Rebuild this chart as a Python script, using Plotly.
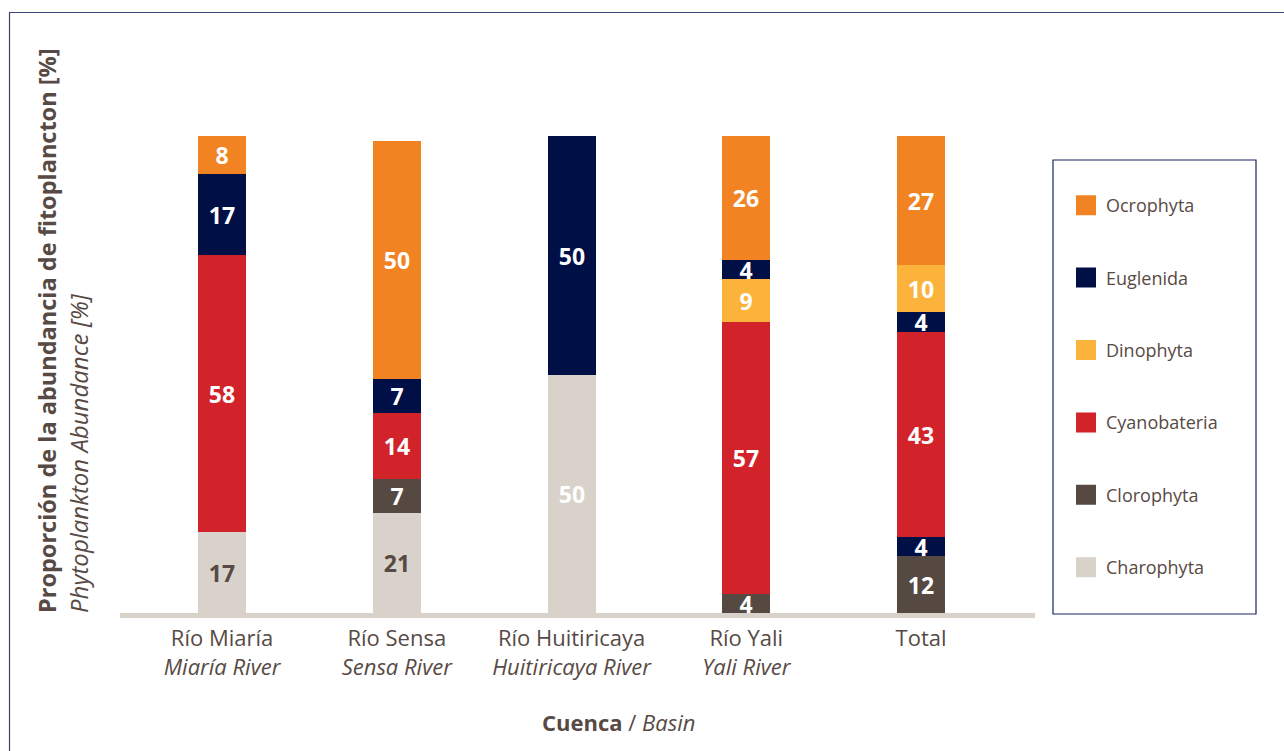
import plotly.graph_objects as go

# ---- data ----
categories_es = ["Río Miaría", "Río Sensa", "Río Huitiricaya", "Río Yali", "Total"]
categories_en = ["Miaría River", "Sensa River", "Huitiricaya River", "Yali River", ""]

charophyta = [17, 21, 50, 0, 0]
clorophyta = [0, 7, 0, 4, 12]
cyanobateria = [58, 14, 0, 57, 43]
dinophyta = [0, 0, 0, 9, 10]
euglenida = [17, 7, 50, 4, 0]
ocrophyta = [8, 50, 0, 26, 27]
# Total bar shows two additional Euglenida segments (below and above Cyanobateria)
euglenida_total_lower = [0, 0, 0, 0, 4]
euglenida_total_upper = [0, 0, 0, 0, 4]

legend_order = ["Ocrophyta", "Euglenida", "Dinophyta", "Cyanobateria", "Clorophyta", "Charophyta"]

colors = {
    "Ocrophyta": "#F28322",
    "Euglenida": "#000F45",
    "Dinophyta": "#FBB33B",
    "Cyanobateria": "#D2232A",
    "Clorophyta": "#554942",
    "Charophyta": "#D9D2CB",
}
TXT = "#574A44"
FONT = "Open Sans"

# stacking order bottom -> top
stack = [
    ("Charophyta", charophyta),
    ("Clorophyta", clorophyta),
    ("Euglenida", euglenida_total_lower),
    ("Cyanobateria", cyanobateria),
    ("Euglenida", euglenida_total_upper),
    ("Dinophyta", dinophyta),
    ("Euglenida", euglenida),
    ("Ocrophyta", ocrophyta),
]

fig = go.Figure()
for name, vals in stack:
    y = [v if v else None for v in vals]
    txt = [str(v) if v else "" for v in vals]
    if name == "Charophyta":
        tcol = [TXT if (v and v < 30) else "white" for v in vals]
    else:
        tcol = ["white"] * len(vals)
    fig.add_trace(go.Bar(
        x=categories_es, y=y, name=name, text=txt,
        marker=dict(color=colors[name], line=dict(width=0)),
        textposition="inside", insidetextanchor="middle",
        constraintext="none", textangle=0,
        insidetextfont=dict(family=FONT, size=23, color=tcol, weight="bold"),
        width=0.275, showlegend=False, hoverinfo="skip",
    ))

for i, name in enumerate(legend_order):
    fig.add_trace(go.Scatter(
        x=[None], y=[None], mode="markers", name=name,
        marker=dict(symbol="square", size=16, color=colors[name],
                    line=dict(color=colors[name], width=4)),
        legendgroup=name, showlegend=True,
    ))

L, R, T, B = 120, 1035, 136, 613
W, H = 1284, 751
pw, ph = R - L, B - T

def px(x):
    return (x - L) / pw

def py(y):
    return (B - y) / ph

ticktext = [f"{es}<br><i>{en}</i>" if en else es for es, en in zip(categories_es, categories_en)]

fig.update_layout(
    width=W, height=H,
    margin=dict(l=L, r=W - R, t=T, b=H - B, pad=0),
    paper_bgcolor="white", plot_bgcolor="white",
    barmode="stack", bargap=0,
    font=dict(family=FONT, color=TXT),
    showlegend=True,
    legend=dict(
        x=px(1066), y=py(187), xanchor="left", yanchor="top",
        traceorder="grouped", tracegroupgap=46,
        font=dict(family=FONT, size=18, color=TXT),
        bgcolor="rgba(0,0,0,0)", borderwidth=0,
    ),
    xaxis=dict(
        range=[-0.584, 4.652], tickmode="array", tickvals=categories_es, ticktext=ticktext,
        tickfont=dict(family=FONT, size=22, color=TXT),
        showline=True, linecolor="#D9D2CB", linewidth=5, showgrid=False,
        ticks="", ticklabelstandoff=2, fixedrange=True,
    ),
    yaxis=dict(range=[0, 100], showticklabels=False, showgrid=False, zeroline=False,
               showline=False, ticks="", fixedrange=True),
    shapes=[
        dict(type="rect", xref="paper", yref="paper",
             x0=px(9.5), x1=px(1300), y0=py(770), y1=py(12.5),
             line=dict(color="#3A4478", width=1.2), fillcolor="rgba(0,0,0,0)", layer="below"),
        dict(type="rect", xref="paper", yref="paper",
             x0=px(1053), x1=px(1256), y0=py(614), y1=py(160),
             line=dict(color="#1B2560", width=1.2), fillcolor="rgba(0,0,0,0)"),
    ],
    annotations=[
        dict(text="<b>Proporción de la abundancia de fitoplancton [%]</b>", textangle=-90,
             xref="paper", yref="paper", x=px(47), y=py(615), xanchor="center", yanchor="bottom",
             showarrow=False, font=dict(family=FONT, size=23.5, color=TXT)),
        dict(text="<i>Phytoplankton Abundance [%]</i>", textangle=-90,
             xref="paper", yref="paper", x=px(78), y=py(615), xanchor="center", yanchor="bottom",
             showarrow=False, font=dict(family=FONT, size=24, color=TXT)),
        dict(text="<b>Cuenca</b> / <i>Basin</i>",
             xref="paper", yref="paper", x=px(618), y=py(722), xanchor="center", yanchor="middle",
             showarrow=False, font=dict(family=FONT, size=22, color=TXT)),
    ],
)

fig.write_html("out.html", config={"displayModeBar": False},
               post_script="document.body.style.margin='0px';")
